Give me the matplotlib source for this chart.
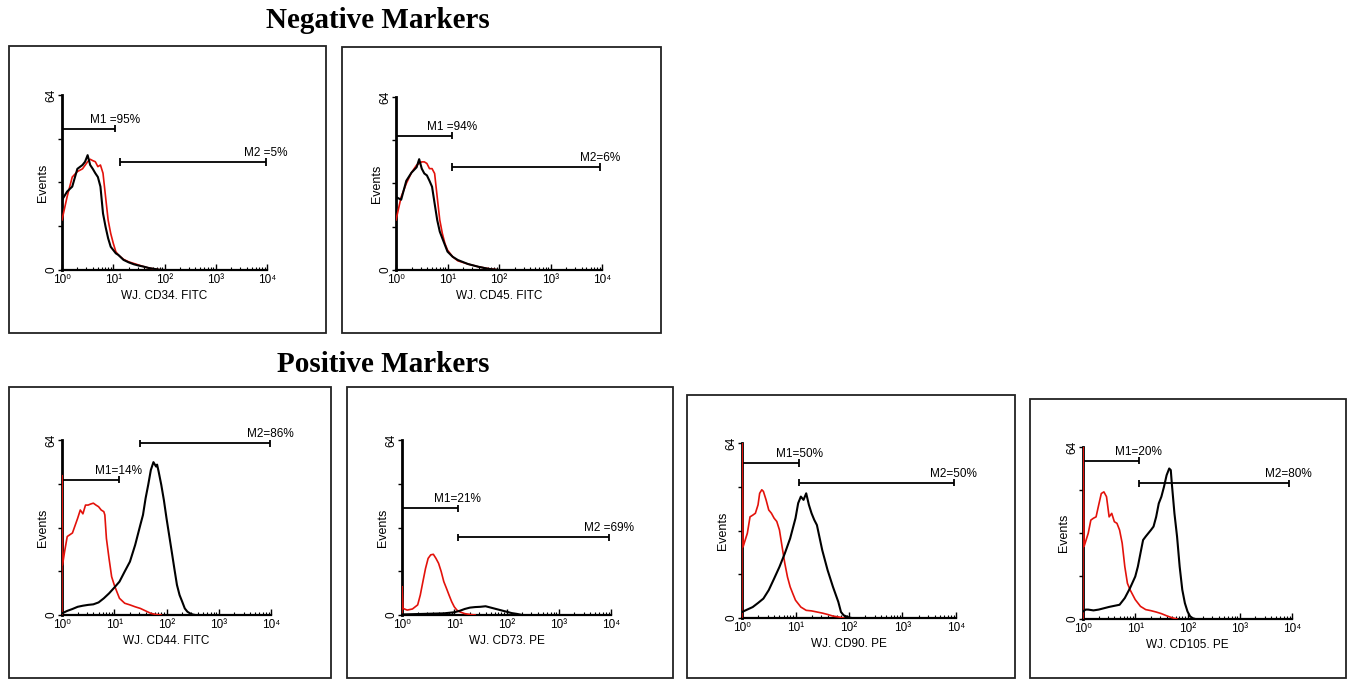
import numpy as np
import matplotlib
matplotlib.use("Agg")
import matplotlib.pyplot as plt
from matplotlib.patches import Rectangle
from matplotlib.ticker import LogLocator, NullFormatter

plt.rcParams['font.family'] = ['Liberation Sans', 'DejaVu Sans']

# ---------------- data (x in log10 units of fluorescence, y = events) ----------------
cd34_black_x = [0.0, 0.1, 0.2, 0.3, 0.4, 0.45, 0.5, 0.55, 0.6, 0.65, 0.7, 0.75, 0.8, 0.85, 0.9, 0.95, 1.0, 1.05, 1.1, 1.2, 1.3, 1.4, 1.5, 1.6, 1.7, 1.8, 1.9, 2.0]
cd34_black_y = [25.6, 28.7, 30.5, 37.0, 38.4, 39.6, 42.0, 38.4, 37.0, 35.4, 34.0, 30.5, 20.7, 15.8, 11.6, 8.5, 7.3, 6.1, 5.5, 3.7, 2.8, 2.1, 1.6, 1.2, 0.7, 0.4, 0.1, 0.0]
cd34_red_x = [0.0, 0.1, 0.2, 0.3, 0.4, 0.5, 0.55, 0.6, 0.65, 0.7, 0.75, 0.8, 0.85, 0.9, 0.95, 1.0, 1.05, 1.1, 1.2, 1.3, 1.4, 1.5, 1.6, 1.7, 1.8, 1.9, 2.0]
cd34_red_y = [18.3, 26.8, 34.0, 36.0, 37.0, 39.6, 40.5, 40.0, 39.6, 37.8, 38.4, 35.4, 26.8, 18.3, 13.4, 9.8, 6.7, 5.5, 3.9, 3.0, 2.4, 1.8, 1.2, 0.7, 0.4, 0.1, 0.0]

cd45_black_x = [0.0, 0.1, 0.2, 0.3, 0.4, 0.45, 0.5, 0.55, 0.6, 0.65, 0.7, 0.75, 0.8, 0.85, 0.9, 1.0, 1.1, 1.2, 1.4, 1.6, 1.8, 2.0]
cd45_black_y = [27.0, 26.0, 33.0, 36.0, 38.0, 41.0, 37.5, 35.7, 35.0, 33.0, 30.8, 24.6, 18.5, 14.2, 11.7, 6.8, 4.9, 3.7, 2.2, 1.2, 0.4, 0.0]
cd45_red_x = [0.0, 0.1, 0.2, 0.3, 0.4, 0.5, 0.55, 0.6, 0.65, 0.7, 0.75, 0.8, 0.85, 0.9, 0.95, 1.0, 1.1, 1.2, 1.4, 1.6, 1.8, 2.0]
cd45_red_y = [18.5, 27.0, 32.0, 36.0, 38.8, 40.0, 40.0, 39.4, 37.5, 37.5, 35.7, 27.0, 18.5, 13.5, 9.8, 7.4, 4.9, 3.4, 2.2, 1.2, 0.5, 0.0]

cd44_black_x = [0.0, 0.1, 0.2, 0.3, 0.4, 0.5, 0.6, 0.7, 0.8, 0.9, 1.0, 1.1, 1.2, 1.3, 1.4, 1.5, 1.55, 1.6, 1.65, 1.7, 1.75, 1.8, 1.82, 1.85, 1.9, 1.95, 2.0, 2.05, 2.1, 2.15, 2.2, 2.25, 2.3, 2.35, 2.4, 2.45, 2.5, 2.55]
cd44_black_y = [0.6, 1.5, 2.2, 3.0, 3.4, 3.7, 3.9, 4.6, 6.1, 7.9, 10.0, 12.2, 15.9, 19.5, 25.6, 33.0, 36.6, 42.7, 47.6, 53.0, 55.9, 54.3, 55.0, 52.4, 47.6, 42.0, 35.4, 29.3, 23.2, 17.0, 11.0, 7.3, 4.9, 2.4, 1.2, 0.6, 0.2, 0.0]
cd44_red_x = [0.0, 0.0, 0.01, 0.05, 0.1, 0.2, 0.3, 0.35, 0.4, 0.45, 0.5, 0.55, 0.6, 0.65, 0.7, 0.75, 0.8, 0.82, 0.85, 0.9, 0.95, 1.0, 1.05, 1.1, 1.2, 1.3, 1.4, 1.5, 1.6, 1.7, 1.8, 1.9]
cd44_red_y = [0.0, 51.0, 18.3, 23.2, 28.7, 30.0, 35.4, 38.4, 37.0, 40.2, 40.2, 40.6, 40.9, 40.2, 39.6, 38.4, 37.8, 36.6, 28.0, 20.7, 14.0, 11.0, 8.5, 6.1, 4.3, 3.7, 3.0, 2.4, 1.5, 0.6, 0.2, 0.0]

cd73_black_x = [0.0, 0.2, 0.4, 0.6, 0.8, 1.0, 1.1, 1.2, 1.3, 1.4, 1.5, 1.6, 1.7, 1.8, 1.9, 2.0, 2.1, 2.2, 2.3]
cd73_black_y = [0.2, 0.3, 0.4, 0.5, 0.6, 1.0, 1.5, 2.2, 2.7, 2.9, 3.0, 3.2, 2.7, 2.2, 1.7, 1.2, 0.7, 0.4, 0.0]
cd73_red_x = [0.0, 0.0, 0.02, 0.1, 0.2, 0.3, 0.35, 0.4, 0.45, 0.5, 0.55, 0.6, 0.65, 0.7, 0.75, 0.8, 0.85, 0.9, 0.95, 1.0, 1.05, 1.1, 1.2, 1.3, 1.4]
cd73_red_y = [0.0, 10.4, 2.4, 1.8, 2.2, 3.7, 7.3, 12.2, 17.0, 20.7, 22.0, 22.2, 20.7, 18.9, 15.9, 12.2, 9.8, 7.3, 4.9, 3.0, 1.8, 1.2, 0.5, 0.2, 0.0]

cd90_black_x = [0.0, 0.1, 0.2, 0.3, 0.4, 0.5, 0.6, 0.7, 0.8, 0.9, 1.0, 1.05, 1.1, 1.15, 1.2, 1.25, 1.3, 1.35, 1.4, 1.5, 1.6, 1.7, 1.8, 1.85, 1.9, 2.0, 2.05]
cd90_black_y = [2.2, 3.1, 4.0, 5.5, 7.1, 10.2, 14.4, 18.7, 23.6, 29.1, 36.5, 42.0, 44.4, 43.2, 45.6, 41.4, 38.3, 35.9, 34.0, 24.8, 17.5, 11.4, 5.9, 2.2, 1.0, 0.2, 0.0]
cd90_red_x = [0.0, 0.0, 0.02, 0.05, 0.1, 0.15, 0.2, 0.25, 0.3, 0.33, 0.37, 0.4, 0.45, 0.5, 0.55, 0.6, 0.65, 0.7, 0.75, 0.8, 0.85, 0.9, 0.95, 1.0, 1.1, 1.2, 1.3, 1.4, 1.5, 1.6, 1.7, 1.8, 1.9]
cd90_red_y = [0.0, 64.0, 26.0, 27.9, 31.0, 37.0, 37.6, 38.3, 41.4, 45.6, 46.9, 46.3, 43.2, 39.5, 38.3, 36.5, 35.3, 32.2, 26.0, 20.0, 15.0, 11.4, 8.9, 6.5, 4.0, 2.8, 2.6, 2.2, 1.8, 1.3, 0.7, 0.4, 0.0]

cd105_black_x = [0.0, 0.05, 0.1, 0.2, 0.3, 0.4, 0.5, 0.6, 0.7, 0.8, 0.9, 1.0, 1.05, 1.1, 1.15, 1.2, 1.25, 1.3, 1.35, 1.4, 1.45, 1.5, 1.55, 1.6, 1.65, 1.68, 1.7, 1.75, 1.8, 1.85, 1.9, 1.95, 2.0, 2.05, 2.1, 2.15]
cd105_black_y = [2.8, 3.5, 3.5, 3.2, 3.5, 4.0, 4.5, 4.9, 5.3, 7.8, 11.5, 15.8, 19.5, 24.5, 29.4, 30.7, 31.9, 33.1, 34.4, 38.0, 43.0, 45.5, 49.2, 53.5, 56.0, 55.4, 50.4, 39.3, 30.7, 19.5, 10.9, 5.9, 2.8, 1.0, 0.3, 0.0]
cd105_red_x = [0.0, 0.0, 0.02, 0.05, 0.1, 0.15, 0.2, 0.25, 0.3, 0.35, 0.4, 0.45, 0.5, 0.55, 0.6, 0.65, 0.7, 0.75, 0.8, 0.85, 0.9, 1.0, 1.1, 1.2, 1.3, 1.4, 1.5, 1.6, 1.7, 1.8]
cd105_red_y = [0.0, 64.0, 27.0, 28.8, 31.9, 36.8, 37.5, 38.0, 42.4, 46.7, 47.3, 45.5, 38.0, 39.3, 36.2, 35.6, 33.1, 28.2, 19.5, 13.3, 10.9, 7.2, 4.7, 3.5, 3.1, 2.6, 2.0, 1.2, 0.5, 0.0]

# x-axis labels
x_labels = ["WJ. CD34. FITC", "WJ. CD45. FITC", "WJ. CD44. FITC",
            "WJ. CD73. PE", "WJ. CD90. PE", "WJ. CD105. PE"]
# gate M1: (end in log10, level), gate M2: (start, end in log10, level), labels
m1_end = [1.03, 1.09, 1.09, 1.07, 1.07, 1.07]
m1_level = [51.6, 49.6, 49.4, 39.1, 56.7, 58.8]
m1_text = ["M1 =95%", "M1 =94%", "M1=14%", "M1=21%", "M1=50%", "M1=20%"]
m2_start = [1.13, 1.09, 1.49, 1.07, 1.07, 1.07]
m2_end = [3.98, 3.96, 3.98, 3.96, 3.96, 3.94]
m2_level = [39.5, 38.1, 62.9, 28.5, 49.4, 50.6]
m2_text = ["M2 =5%", "M2=6%", "M2=86%", "M2 =69%", "M2=50%", "M2=80%"]

curves = [
    (cd34_black_x, cd34_black_y, cd34_red_x, cd34_red_y),
    (cd45_black_x, cd45_black_y, cd45_red_x, cd45_red_y),
    (cd44_black_x, cd44_black_y, cd44_red_x, cd44_red_y),
    (cd73_black_x, cd73_black_y, cd73_red_x, cd73_red_y),
    (cd90_black_x, cd90_black_y, cd90_red_x, cd90_red_y),
    (cd105_black_x, cd105_black_y, cd105_red_x, cd105_red_y),
]

# ---------------- layout ----------------
W, H = 1352, 680
fig = plt.figure(figsize=(W / 100, H / 100), dpi=100)

def fx(px):
    return px / W

def fy(py):
    return 1 - py / H

# axes rectangles in pixel coords: (left, right, top, bottom)
axes_px = [(62, 267, 95, 270), (396, 602, 97, 270), (62, 271, 440, 615),
           (402, 611, 440, 615), (742, 956, 443, 618), (1083, 1292, 447, 619)]
boxes_px = [(9, 326, 46, 333), (342, 661, 47, 333), (9, 331, 387, 678),
            (347, 673, 387, 678), (687, 1015, 395, 678), (1030, 1346, 399, 678)]

for (l, r, t, b) in boxes_px:
    fig.patches.append(Rectangle((fx(l), fy(b)), fx(r - l), (b - t) / H,
                                 transform=fig.transFigure, fill=False,
                                 edgecolor='#222222', linewidth=1.3))

fig.text(fx(378), fy(21), "Negative Markers", family='Liberation Serif',
         fontweight='bold', fontsize=21, ha='center', va='center')
fig.text(fx(383), fy(365), "Positive Markers", family='Liberation Serif',
         fontweight='bold', fontsize=21, ha='center', va='center')

tick_labels = ["10\u2070", "10\u00b9", "10\u00b2", "10\u00b3", "10\u2074"]
cap = 1.3

for i, (l, r, t, b) in enumerate(axes_px):
    ax = fig.add_axes([fx(l), fy(b), fx(r - l), (b - t) / H])
    bx, by, rx, ry = curves[i]
    ax.plot(10 ** np.array(rx), ry, color='#e3120b', lw=1.2, zorder=3)
    ax.plot(10 ** np.array(bx), by, color='black', lw=1.5, zorder=4)

    # gates
    e1 = 10 ** m1_end[i]
    ax.hlines(m1_level[i], 1, e1, color='black', lw=1.3)
    ax.vlines([1, e1], m1_level[i] - cap, m1_level[i] + cap, color='black', lw=1.3)
    ax.text(e1, m1_level[i] + 1.0, m1_text[i], ha='center', va='bottom', fontsize=8.5)
    s2, e2 = 10 ** m2_start[i], 10 ** m2_end[i]
    ax.hlines(m2_level[i], s2, e2, color='black', lw=1.3)
    ax.vlines([s2, e2], m2_level[i] - cap, m2_level[i] + cap, color='black', lw=1.3)
    ax.text(e2, m2_level[i] + 1.0, m2_text[i], ha='center', va='bottom', fontsize=8.5)

    ax.set_xscale('log')
    ax.set_xlim(1, 1e4)
    ax.set_ylim(0, 64)
    for s in ('top', 'right'):
        ax.spines[s].set_visible(False)
    ax.spines['left'].set_linewidth(2.0)
    ax.spines['bottom'].set_linewidth(1.6)
    ax.set_xticks([1, 10, 100, 1000, 10000])
    ax.set_xticklabels(tick_labels, fontsize=8.5)
    ax.xaxis.set_minor_locator(LogLocator(base=10, subs=np.arange(2, 10), numticks=20))
    ax.xaxis.set_minor_formatter(NullFormatter())
    ax.tick_params(axis='x', which='major', direction='in', length=4, width=1, pad=3)
    ax.tick_params(axis='x', which='minor', direction='in', length=2, width=0.8)
    ax.set_yticks([0, 16, 32, 48, 64])
    ax.set_yticklabels(["0", "", "", "", "64"], fontsize=8.5, rotation=90, va='center')
    ax.tick_params(axis='y', direction='out', length=3, width=1, pad=0.5)
    ax.set_xlabel(x_labels[i], fontsize=8.5, labelpad=3)
    ax.set_ylabel("Events", fontsize=9, labelpad=-3)
    ax.patch.set_alpha(0)

fig.savefig("out.png", dpi=100)
